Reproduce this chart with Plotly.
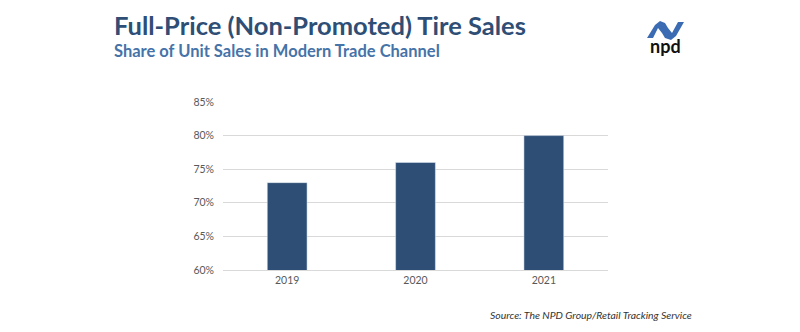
import plotly.graph_objects as go

years = ["2019", "2020", "2021"]
share = [73, 76, 80]
y_ticks = [60, 65, 70, 75, 80, 85]
y_tick_labels = ["60%", "65%", "70%", "75%", "80%", "85%"]

W, H = 800, 332
L, R, T, B = 223, 608, 102, 270

def px(x):
    return (x - L) / (R - L)

def py(y):
    return (B - y) / (B - T)

fig = go.Figure(go.Bar(x=years, y=share, marker_color="#2E4E75", width=0.31))

fig.update_layout(
    width=W, height=H,
    margin=dict(l=L, r=W - R, t=T, b=H - B),
    plot_bgcolor="white", paper_bgcolor="white",
    showlegend=False,
    font=dict(family="Lato, sans-serif", color="#595959", size=10),
)
fig.update_yaxes(range=[60, 85], tickvals=y_ticks, ticktext=y_tick_labels,
                 showgrid=True, gridcolor="#D9D9D9", gridwidth=1,
                 zeroline=False, showline=False, ticks="", ticklabelstandoff=8,
                 tickfont=dict(size=10.5, color="#595959"))
fig.update_xaxes(showgrid=False, showline=True, linecolor="#D9D9D9", ticks="",
                 tickfont=dict(size=10.5, color="#595959"))

fig.add_annotation(text="<b>Full-Price (Non-Promoted) Tire Sales</b>",
                   xref="paper", yref="paper", x=px(112), y=py(25),
                   xanchor="left", yanchor="middle", showarrow=False,
                   font=dict(family="Lato, sans-serif", size=25.5, color="#2E4E75"))
fig.add_annotation(text="<b>Share of Unit Sales in Modern Trade Channel</b>",
                   xref="paper", yref="paper", x=px(112), y=py(51),
                   xanchor="left", yanchor="middle", showarrow=False,
                   font=dict(family="Lato, sans-serif", size=16.5, color="#4673A8"))
fig.add_annotation(text="<i>Source: The NPD Group/Retail Tracking Service</i>",
                   xref="paper", yref="paper", x=px(488), y=py(315),
                   xanchor="left", yanchor="middle", showarrow=False,
                   font=dict(family="Lato, sans-serif", size=10.4, color="#333333"))

# logo
pts = [(647, 38), (655, 25), (660, 21), (665, 23), (668, 28), (672, 33),
       (678, 22), (684, 22), (676, 36), (671, 40), (665, 38), (662, 33),
       (658, 28), (653, 38)]
path = "M " + " L ".join(f"{px(x)},{py(y)}" for x, y in pts) + " Z"
fig.add_shape(type="path", path=path, xref="paper", yref="paper",
              fillcolor="#3B6CB3", line=dict(width=0))
fig.add_annotation(text="<b>npd</b>", xref="paper", yref="paper",
                   x=px(665), y=py(46), xanchor="center", yanchor="middle",
                   showarrow=False,
                   font=dict(family="Lato, sans-serif", size=18, color="#111111"))

fig.write_html("out.html")
